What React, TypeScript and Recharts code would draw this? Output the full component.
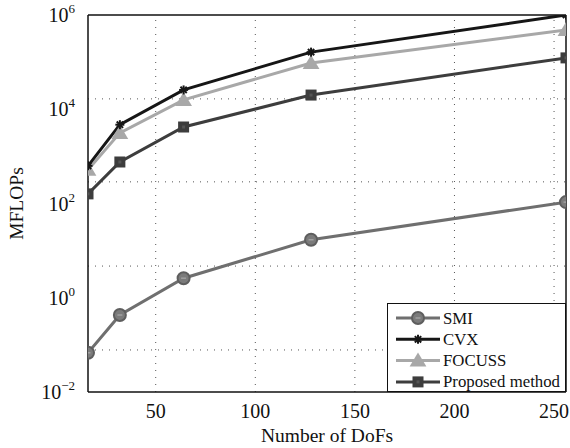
import React from "react";
import {
  ComposedChart,
  Line,
  XAxis,
  YAxis,
  ReferenceLine,
} from "recharts";

const dofs = [16, 32, 64, 128, 256];
const smi = [0.068, 0.43, 2.6, 17, 107];
const cvx = [630, 4700, 25700, 163000, 1000000];
const focuss = [520, 3150, 15800, 96000, 480000];
const proposed = [160, 760, 4200, 20000, 123000];

const xTicks = [50, 100, 150, 200, 250];
const yTicks = [0.01, 1, 100, 10000, 1000000];
const yExponents = ["−2", "0", "2", "4", "6"];
// the horizontal grid in the original does not sit on the decades
const yGridLevels = [16600, 288, 4.7, 0.078];

const data = dofs.map((d, i) => ({
  dofs: d,
  smi: smi[i],
  cvx: cvx[i],
  focuss: focuss[i],
  proposed: proposed[i],
}));

const FONT = "'Liberation Serif', 'Times New Roman', serif";
const txt = { fontFamily: FONT };

const C_SMI = "#6f6f6f";
const C_CVX = "#161616";
const C_FOC = "#a8a8a8";
const C_PRO = "#3d3d3d";

function Marker({ kind, cx, cy }: { kind: string; cx: number; cy: number }) {
  if (kind === "smi") {
    return (
      <g>
        <circle cx={cx} cy={cy} r={6} fill="#7b7b7b" stroke="#5e5e5e" strokeWidth={2} />
        <line x1={cx - 2.5} y1={cy} x2={cx + 2.5} y2={cy} stroke="#a0a0a0" strokeWidth={1.5} />
      </g>
    );
  }
  if (kind === "cvx") {
    const r = 4.5;
    return (
      <g stroke={C_CVX} strokeWidth={2}>
        <line x1={cx - r} y1={cy} x2={cx + r} y2={cy} />
        <line x1={cx} y1={cy - r} x2={cx} y2={cy + r} />
        <line x1={cx - r * 0.7} y1={cy - r * 0.7} x2={cx + r * 0.7} y2={cy + r * 0.7} />
        <line x1={cx - r * 0.7} y1={cy + r * 0.7} x2={cx + r * 0.7} y2={cy - r * 0.7} />
      </g>
    );
  }
  if (kind === "focuss") {
    const s = 8;
    return (
      <polygon
        points={`${cx},${cy - s} ${cx - s * 1.05},${cy + s * 0.75} ${cx + s * 1.05},${cy + s * 0.75}`}
        fill={C_FOC}
      />
    );
  }
  return (
    <g>
      <rect x={cx - 5.5} y={cy - 5.5} width={11} height={11} fill={C_PRO} />
      <rect x={cx - 1.5} y={cy - 1.5} width={3} height={3} fill="#555" />
    </g>
  );
}

const dotFor = (kind: string) => (props: any) => {
  const { cx, cy, index } = props;
  if (cx == null || cy == null) return <g key={`${kind}-${index}`} />;
  return (
    <g key={`${kind}-${index}`}>
      <Marker kind={kind} cx={cx} cy={cy} />
    </g>
  );
};

const legendItems = [
  { key: "smi", label: "SMI", color: C_SMI },
  { key: "cvx", label: "CVX", color: C_CVX },
  { key: "focuss", label: "FOCUSS", color: C_FOC },
  { key: "proposed", label: "Proposed method", color: C_PRO },
];

function LegendBox() {
  return (
    <svg width={179} height={89} style={{ display: "block" }}>
      <rect x={0.5} y={0.5} width={178} height={88} fill="#fff" stroke="#111" strokeWidth={1} />
      {legendItems.map((it, i) => {
        const y = 15 + i * 21.3;
        return (
          <g key={it.key}>
            <line x1={9} y1={y} x2={53} y2={y} stroke={it.color} strokeWidth={3} />
            <Marker kind={it.key} cx={31} cy={y} />
            <text x={56} y={y + 5.5} style={{ ...txt, fontSize: 16.8 }} fill="#111">
              {it.label}
            </text>
          </g>
        );
      })}
    </svg>
  );
}

function YTick(props: any) {
  const { x, y, payload, index } = props;
  const exp = yExponents[yTicks.indexOf(payload.value)] ?? yExponents[index];
  return (
    <text x={x - 5} y={y + 7} textAnchor="end" style={{ ...txt, fontSize: 20 }} fill="#111">
      <tspan>10</tspan>
      <tspan dy={-9} style={{ fontSize: 13 }}>{exp}</tspan>
    </text>
  );
}

function XTick(props: any) {
  const { x, y, payload } = props;
  return (
    <text x={x} y={y + 18} textAnchor="middle" style={{ ...txt, fontSize: 20 }} fill="#111">
      {payload.value}
    </text>
  );
}

export default function App() {
  return (
    <div style={{ position: "absolute", left: 0, top: 0, width: 570, height: 448, background: "#fff" }}>
      <ComposedChart
        width={570}
        height={448}
        data={data}
        margin={{ top: 15, right: 4, bottom: 26, left: 8 }}
      >
        <XAxis
          dataKey="dofs"
          type="number"
          domain={[16, 256]}
          ticks={xTicks}
          interval={0}
          allowDataOverflow
          stroke="#111"
          strokeWidth={1.5}
          tickLine={false}
          tick={<XTick />}
          height={30}
          label={{
            value: "Number of DoFs",
            position: "insideBottom",
            offset: -20,
            fill: "#111",
            fontSize: 19.5,
            style: { ...txt },
          }}
        />
        <YAxis
          type="number"
          scale="log"
          domain={[0.01, 1000000]}
          ticks={yTicks}
          interval={0}
          allowDataOverflow
          width={80}
          stroke="#111"
          strokeWidth={1.5}
          tickLine={false}
          tick={<YTick />}
          label={{
            value: "MFLOPs",
            angle: -90,
            position: "insideLeft",
            offset: 8,
            fill: "#111",
            fontSize: 19.5,
            style: { ...txt, textAnchor: "middle" },
          }}
        />
        {xTicks.map((t) => (
          <ReferenceLine key={`vx${t}`} x={t} stroke="#555" strokeWidth={1} strokeDasharray="1 6" />
        ))}
        {yGridLevels.map((t) => (
          <ReferenceLine key={`hy${t}`} y={t} stroke="#555" strokeWidth={1} strokeDasharray="1 6" />
        ))}
        <ReferenceLine y={1000000} stroke="#111" strokeWidth={1.5} />
        <ReferenceLine x={256} stroke="#111" strokeWidth={1.5} />
        <Line
          dataKey="smi"
          name="SMI"
          stroke={C_SMI}
          strokeWidth={3}
          dot={dotFor("smi")}
          activeDot={false}
          isAnimationActive={false}
        />
        <Line
          dataKey="proposed"
          name="Proposed method"
          stroke={C_PRO}
          strokeWidth={3}
          dot={dotFor("proposed")}
          activeDot={false}
          isAnimationActive={false}
        />
        <Line
          dataKey="focuss"
          name="FOCUSS"
          stroke={C_FOC}
          strokeWidth={3}
          dot={dotFor("focuss")}
          activeDot={false}
          isAnimationActive={false}
        />
        <Line
          dataKey="cvx"
          name="CVX"
          stroke={C_CVX}
          strokeWidth={3}
          dot={dotFor("cvx")}
          activeDot={false}
          isAnimationActive={false}
        />
      </ComposedChart>
      <div style={{ position: "absolute", left: 387, top: 303 }}>
        <LegendBox />
      </div>
    </div>
  );
}
